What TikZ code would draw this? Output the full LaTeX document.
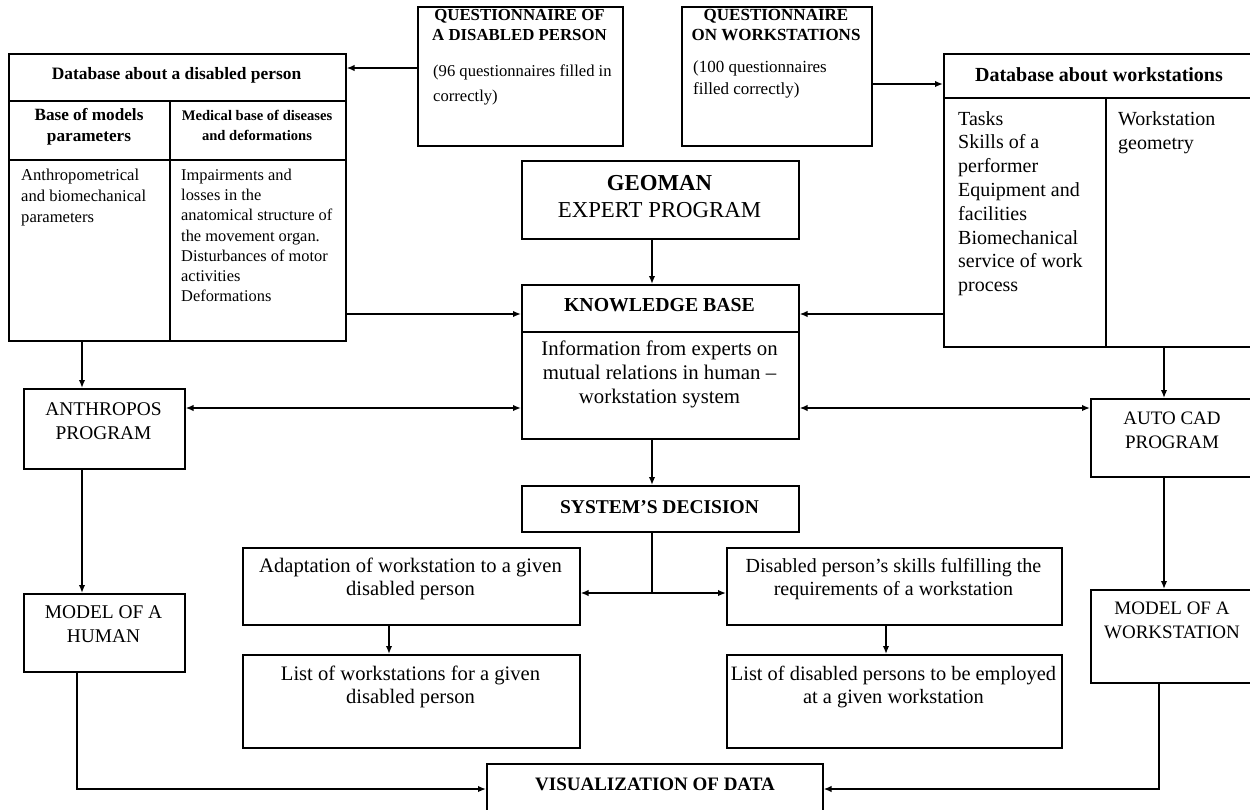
\documentclass[tikz,border=0pt]{standalone}
\usepackage{fontspec}
\setmainfont{Liberation Serif}
\usetikzlibrary{arrows.meta}
\newcommand{\myfs}[2]{\fontsize{#1}{#2}\selectfont}
\tikzset{
 box/.style={draw, line width=1.6pt, inner sep=0pt, anchor=north west},
 conn/.style={line width=1.6pt},
 arr/.style={conn, -{Latex[length=8pt,width=6.5pt]}},
 darr/.style={conn, {Latex[length=8pt,width=6.5pt]}-{Latex[length=8pt,width=6.5pt]}},
 txt/.style={inner sep=0pt, align=center},
 ltxt/.style={inner sep=0pt, align=left, anchor=north west},
}
\begin{document}
\begin{tikzpicture}[x=1pt,y=-1pt]
\useasboundingbox (0,0) rectangle (1250,809);
% ---------- boxes ----------
\node[box, minimum width=337pt, minimum height=287pt] (dbL) at (8,53) {};
\node[box, minimum width=205pt, minimum height=139pt] (q1) at (417,6) {};
\node[box, minimum width=190pt, minimum height=139pt] (q2) at (681,6) {};
\node[box, minimum width=311pt, minimum height=293pt] (dbR) at (943,53) {};
\node[box, minimum width=277pt, minimum height=78pt] (geo) at (521,160) {};
\node[box, minimum width=277pt, minimum height=154pt] (kb) at (521,284) {};
\node[box, minimum width=161pt, minimum height=80pt] (anth) at (23,388) {};
\node[box, minimum width=164pt, minimum height=78pt] (acad) at (1090,398) {};
\node[box, minimum width=277pt, minimum height=46pt] (sd) at (521,485) {};
\node[box, minimum width=337pt, minimum height=77pt] (adapt) at (242,547) {};
\node[box, minimum width=335pt, minimum height=77pt] (skills) at (726,547) {};
\node[box, minimum width=337pt, minimum height=93pt] (listL) at (242,654) {};
\node[box, minimum width=335pt, minimum height=93pt] (listR) at (726,654) {};
\node[box, minimum width=161pt, minimum height=78pt] (mh) at (23,593) {};
\node[box, minimum width=164pt, minimum height=93pt] (mw) at (1090,589) {};
\node[box, minimum width=336pt, minimum height=52pt] (vis) at (486,763) {};
% ---------- dividers ----------
\draw[conn] (dbL.west |- 0,101) -- (dbL.east |- 0,101);
\draw[conn] (dbL.west |- 0,160) -- (dbL.east |- 0,160);
\draw[conn] (170,101) -- (170,0 |- dbL.south);
\draw[conn] (dbR.west |- 0,98) -- (dbR.east |- 0,98);
\draw[conn] (1106,98) -- (1106,0 |- dbR.south);
\draw[conn] (kb.west |- 0,332) -- (kb.east |- 0,332);
% ---------- texts ----------
\node[txt, font=\myfs{17.4}{20}\bfseries] (dbLt) at (176.5,75) {Database about a disabled person};
\node[txt, font=\myfs{17.2}{21}\bfseries] (dbLa) at (89,127) {Base of models\\parameters};
\node[txt, font=\myfs{14.6}{20}\bfseries] (dbLb) at (257,125) {Medical base of diseases\\and deformations};
\node[ltxt, font=\myfs{16.6}{21}] (dbLc) at (21,169) {Anthropometrical\\and biomechanical\\parameters};
\node[ltxt, font=\myfs{16.4}{20.2}] (dbLd) at (181,169) {Impairments and\\losses in the\\anatomical structure of\\the movement organ.\\Disturbances of motor\\activities\\Deformations};
\node[txt, font=\myfs{16.8}{20}\bfseries] (q1t) at (519.5,25) {QUESTIONNAIRE OF\\A DISABLED PERSON};
\node[ltxt, font=\myfs{16.6}{25}] (q1b) at (433,65) {(96 questionnaires filled in\\correctly)};
\node[txt, font=\myfs{17}{20}\bfseries] (q2t) at (776,25) {QUESTIONNAIRE\\ON WORKSTATIONS};
\node[ltxt, font=\myfs{17}{22}] (q2b) at (693,61) {(100 questionnaires\\filled correctly)};
\node[txt, font=\myfs{20}{24}\bfseries] (dbRt) at (1099,75) {Database about workstations};
\node[ltxt, font=\myfs{20}{23.8}] (dbRa) at (958,111) {Tasks\\Skills of a\\performer\\Equipment and\\facilities\\Biomechanical\\service of work\\process};
\node[ltxt, font=\myfs{20}{24}] (dbRb) at (1118,111) {Workstation\\geometry};
\node[txt, font=\myfs{22.8}{27}] (geot) at (659.5,197) {\textbf{GEOMAN}\\EXPERT PROGRAM};
\node[txt, font=\myfs{19.8}{24}\bfseries] (kbt) at (659.5,305) {KNOWLEDGE BASE};
\node[txt, font=\myfs{20.8}{24}] (kbb) at (659.5,374) {Information from experts on\\mutual relations in human –\\workstation system};
\node[txt, font=\myfs{19.5}{24}\bfseries] (sdt) at (659.5,507) {SYSTEM’S DECISION};
\node[txt, font=\myfs{19.4}{24}] (antht) at (103.5,421) {ANTHROPOS\\PROGRAM};
\node[txt, font=\myfs{19.4}{24}] (mht) at (103.5,624) {MODEL OF A\\HUMAN};
\node[txt, font=\myfs{19}{24}] (acadt) at (1172,430) {AUTO CAD\\PROGRAM};
\node[txt, font=\myfs{19}{24}] (mwt) at (1172,620) {MODEL OF A\\WORKSTATION};
\node[txt, font=\myfs{20.6}{23}] (adaptt) at (410.5,579) {Adaptation of workstation to a given\\disabled person};
\node[txt, font=\myfs{20.6}{23}] (listLt) at (410.5,687) {List of workstations for a given\\disabled person};
\node[txt, font=\myfs{20}{23}] (skillst) at (893.5,579) {Disabled person’s skills fulfilling the\\requirements of a workstation};
\node[txt, font=\myfs{20.4}{23}] (listRt) at (893.5,687) {List of disabled persons to be employed\\at a given workstation};
\node[txt, font=\myfs{19}{24}\bfseries] (vist) at (655,784) {VISUALIZATION OF DATA};
% ---------- connectors ----------
\draw[arr] (q1.west |- 0,68) -- (dbL.east |- 0,68);
\draw[arr] (q2.east |- 0,84) -- (dbR.west |- 0,84);
\draw[arr] (dbL.east |- 0,314) -- (kb.west |- 0,314);
\draw[arr] (dbR.west |- 0,314) -- (kb.east |- 0,314);
\draw[arr] (geo.south -| 652,0) -- (kb.north -| 652,0);
\draw[arr] (kb.south -| 652,0) -- (sd.north -| 652,0);
\draw[arr] (dbL.south -| 82,0) -- (anth.north -| 82,0);
\draw[darr] (anth.east |- 0,408) -- (kb.west |- 0,408);
\draw[darr] (kb.east |- 0,408) -- (acad.west |- 0,408);
\draw[arr] (dbR.south -| 1164,0) -- (acad.north -| 1164,0);
\draw[arr] (acad.south -| 1164,0) -- (mw.north -| 1164,0);
\draw[arr] (anth.south -| 82,0) -- (mh.north -| 82,0);
\draw[conn] (sd.south -| 652,0) -- (652,593) coordinate (split);
\draw[arr] (split) -- (adapt.east |- split);
\draw[arr] (split) -- (skills.west |- split);
\draw[arr] (adapt.south -| 389,0) -- (listL.north -| 389,0);
\draw[arr] (skills.south -| 886,0) -- (listR.north -| 886,0);
\draw[arr] (mh.south -| 77,0) -- (77,789) -- (vis.west |- 0,789);
\draw[arr] (mw.south -| 1159,0) -- (1159,789) -- (vis.east |- 0,789);
\end{tikzpicture}
\end{document}
